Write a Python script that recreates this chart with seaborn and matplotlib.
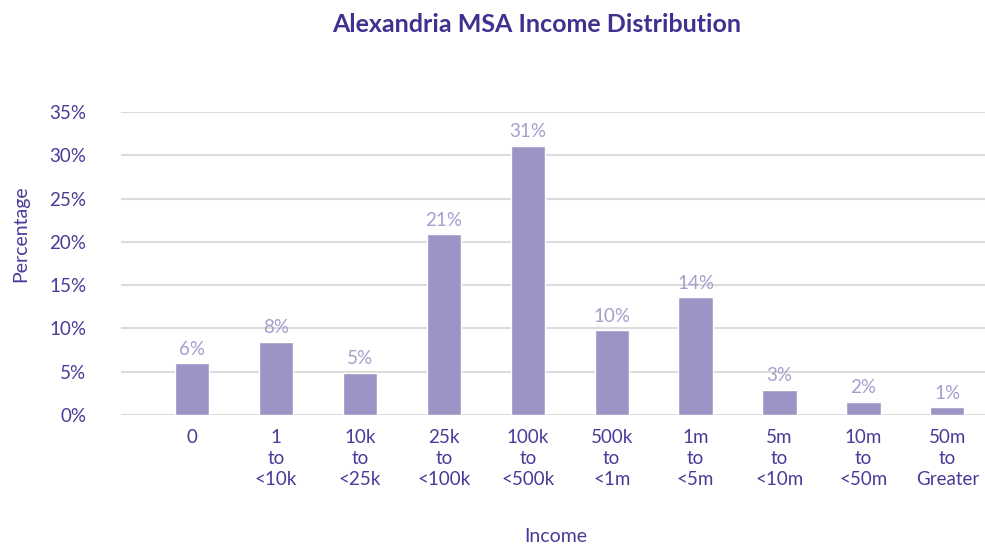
import matplotlib
matplotlib.use("Agg")
import matplotlib.pyplot as plt
import seaborn as sns
import pandas as pd
from matplotlib.ticker import PercentFormatter

# データ
income_bands = ["0", "1\nto\n<10k", "10k\nto\n<25k", "25k\nto\n<100k", "100k\nto\n<500k",
                "500k\nto\n<1m", "1m\nto\n<5m", "5m\nto\n<10m", "10m\nto\n<50m", "50m\nto\nGreater"]
percentages = [6.0, 8.45, 4.9, 20.9, 31.1, 9.8, 13.6, 2.9, 1.55, 0.9]
y_ticks = [0, 5, 10, 15, 20, 25, 30, 35]

BAR_COLOR = "#9d94c6"
LABEL_COLOR = "#a59ecd"
TEXT_COLOR = "#4a3a98"
TITLE_COLOR = "#40308f"

sns.set_theme(style="white")
plt.rcParams["font.family"] = ["Lato", "DejaVu Sans"]

df = pd.DataFrame({"Income": income_bands, "Percentage": percentages})

fig = plt.figure(figsize=(9.85, 5.46), dpi=100)
ax = fig.add_axes([121 / 985, 1 - 415 / 546, 864 / 985, 303 / 546])

sns.barplot(data=df, x="Income", y="Percentage", color=BAR_COLOR, width=0.41,
            saturation=1, ax=ax, zorder=3)

# 値ラベル
for bar, val in zip(ax.patches, percentages):
    ax.annotate(f"{round(val):.0f}%", (bar.get_x() + bar.get_width() / 2, bar.get_height()),
                xytext=(0, 4), textcoords="offset points", ha="center", va="bottom",
                fontsize=13.5, color=LABEL_COLOR)

ax.set_ylim(0, 35)
ax.set_xlim(-0.85, 9.45)
ax.set_yticks(y_ticks)
ax.yaxis.set_major_formatter(PercentFormatter(decimals=0))
ax.grid(True, axis="y", color="#dcdcdc", linewidth=1.5, zorder=0)
ax.set_axisbelow(True)
for s in ax.spines.values():
    s.set_visible(False)

ax.tick_params(axis="both", length=0, colors=TEXT_COLOR, labelsize=13.5)
ax.tick_params(axis="y", pad=25)
ax.tick_params(axis="x", pad=10)
for lbl in ax.get_xticklabels():
    lbl.set_linespacing(1.3)
    lbl.set_verticalalignment("top")

ax.set_xlabel("Income", fontsize=14, color=TEXT_COLOR)
ax.xaxis.set_label_coords(435 / 864, -113 / 303)
ax.set_ylabel("Percentage", fontsize=14, color=TEXT_COLOR)
ax.yaxis.set_label_coords(-92 / 864, 0.6)

fig.suptitle("Alexandria MSA Income Distribution", x=537 / 985, y=1 - 24 / 546,
             va="center", fontsize=18, fontweight="bold", color=TITLE_COLOR)

fig.savefig("out.png", dpi=100)
